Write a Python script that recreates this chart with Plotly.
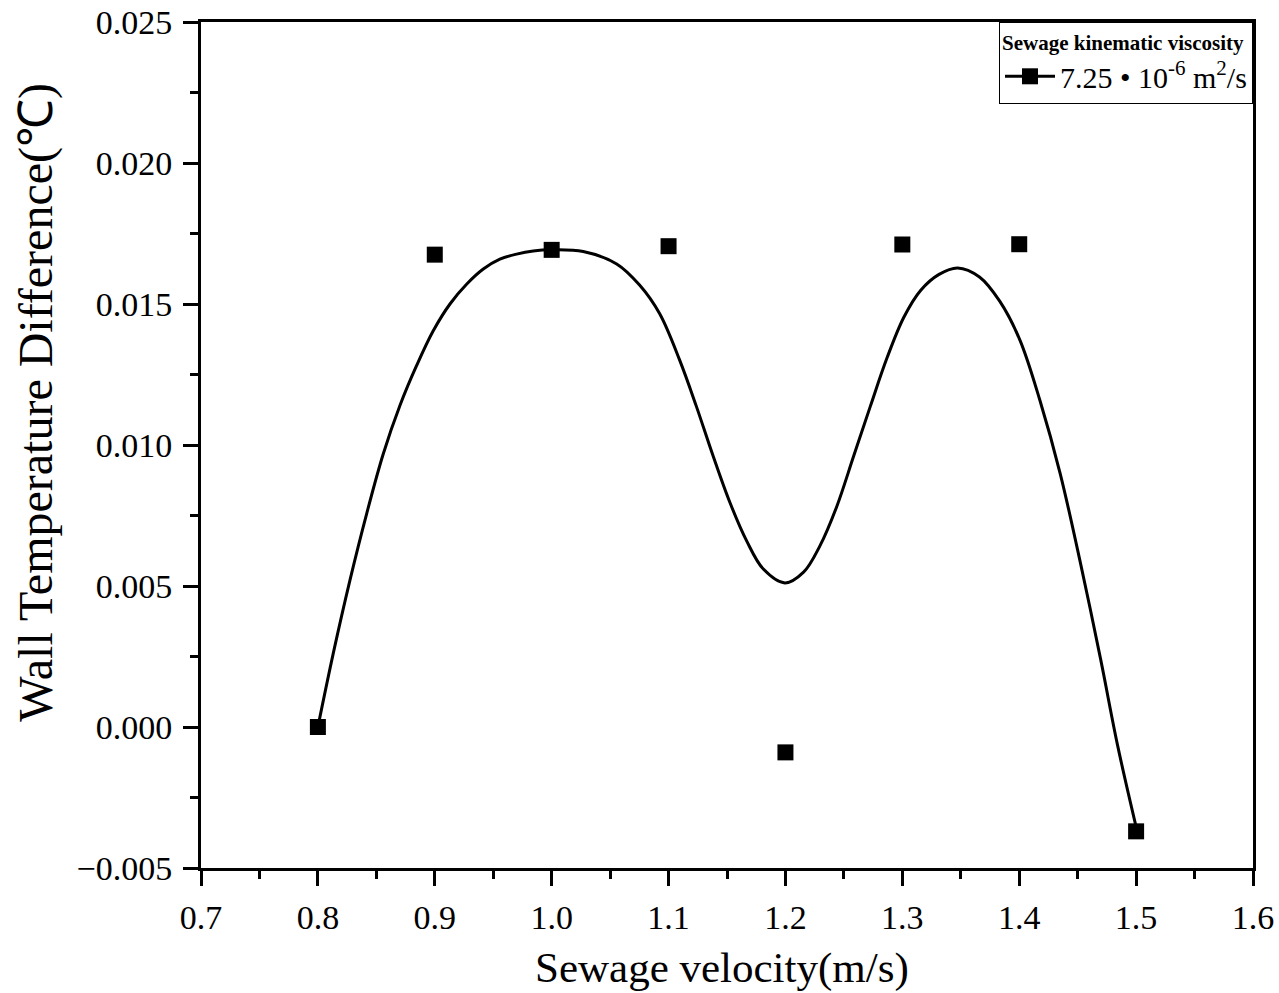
import plotly.graph_objects as go

# Messpunkte
velocity = [0.8, 0.9, 1.0, 1.1, 1.2, 1.3, 1.4, 1.5]
temp_diff = [0.0, 0.01675, 0.01692, 0.01705, -0.0009, 0.01711, 0.01712, -0.0037]

# Glatte Kurve
curve_x = [0.8, 0.8131, 0.8274, 0.8417, 0.8559, 0.8702, 0.8845, 0.8987, 0.9130,
           0.9272, 0.9415, 0.9557, 0.9700, 0.9842, 1.0, 1.0270, 1.0556, 1.0752,
           1.0923, 1.1095, 1.1238, 1.1382, 1.1525, 1.1668, 1.1811, 1.1996, 1.2155,
           1.2297, 1.2440, 1.2583, 1.2726, 1.2870, 1.3013, 1.3156, 1.3314, 1.3473,
           1.3660, 1.3833, 1.4005, 1.4178, 1.4351, 1.4524, 1.4698, 1.4842, 1.5]
curve_y = [0.0, 0.00260, 0.00520, 0.00756, 0.00968, 0.01140, 0.01282, 0.01405, 0.01500,
           0.01570, 0.01624, 0.01659, 0.01677, 0.01688, 0.01692, 0.01686, 0.01642, 0.01567,
           0.01466, 0.01301, 0.01137, 0.00960, 0.00796, 0.00660, 0.00560, 0.00511, 0.00549,
           0.00644, 0.00783, 0.00960, 0.01137, 0.01310, 0.01453, 0.01548, 0.01605, 0.01628,
           0.01596, 0.01510, 0.01373, 0.01157, 0.00898, 0.00581, 0.00237, -0.00066, -0.00354]

legend_title = '<b>Sewage kinematic viscosity</b>'
legend_name = '7.25 • 10<sup>-6</sup> m<sup>2</sup>/s'

FONT = 'Liberation Serif'

fig = go.Figure()
fig.add_trace(go.Scatter(x=curve_x, y=curve_y, mode='lines',
                         line=dict(color='black', width=3, shape='spline'),
                         showlegend=False, hoverinfo='skip'))
fig.add_trace(go.Scatter(x=velocity, y=temp_diff, mode='markers',
                         marker=dict(symbol='square', size=16, color='black'),
                         showlegend=False))
# nur fuer den Legendeneintrag
fig.add_trace(go.Scatter(x=[None], y=[None], mode='lines+markers', name=legend_name,
                         line=dict(color='black', width=3),
                         marker=dict(symbol='square', size=16, color='black')))

axis_common = dict(
    showline=True, linecolor='black', linewidth=3, mirror=True,
    ticks='outside', ticklen=15, tickwidth=3, tickcolor='black',
    showgrid=False, zeroline=False, ticklabeloverflow='allow', automargin=False,
    tickfont=dict(family=FONT, size=34, color='black'),
)
fig.update_xaxes(range=[0.7, 1.6], dtick=0.1, tickformat='.1f',
                 minor=dict(ticks='outside', ticklen=8, tickwidth=3, dtick=0.05, tickcolor='black'),
                 ticklabelstandoff=2, **axis_common)
fig.update_yaxes(range=[-0.005, 0.025], dtick=0.005, tickformat='.3f',
                 minor=dict(ticks='outside', ticklen=8, tickwidth=3, dtick=0.0025, tickcolor='black'),
                 ticklabelstandoff=4, **axis_common)

# Achsentitel als Annotationen (genauere Position)
fig.add_annotation(text='Sewage velocity(m/s)', xref='paper', yref='paper',
                   x=0.495, y=-0.118, xanchor='center', yanchor='middle', showarrow=False,
                   font=dict(family=FONT, size=43, color='black'))
fig.add_annotation(text='Wall Temperature Difference(℃)', xref='paper', yref='paper',
                   x=-0.157, y=0.551, xanchor='center', yanchor='middle', textangle=-90,
                   showarrow=False, font=dict(family=FONT, size=48, color='black'))

fig.update_layout(
    width=1279, height=993,
    margin=dict(l=201, r=26, t=22, b=125, autoexpand=False),
    plot_bgcolor='white', paper_bgcolor='white',
    font=dict(family=FONT, color='black'),
    legend=dict(
        title=dict(text=legend_title, font=dict(family=FONT, size=21, color='black')),
        font=dict(family=FONT, size=30, color='black'),
        x=1, y=1, xanchor='right', yanchor='top',
        bgcolor='white', bordercolor='black', borderwidth=1,
        itemwidth=50, tracegroupgap=0,
    ),
)

# Seitenrand entfernen, damit die Grafik genau ins Fenster passt
page_fix = ("document.body.style.margin='0';"
            "document.body.style.overflow='hidden';"
            "document.documentElement.style.overflow='hidden';")

fig.write_html('out.html', post_script=page_fix, config={'displayModeBar': False})
